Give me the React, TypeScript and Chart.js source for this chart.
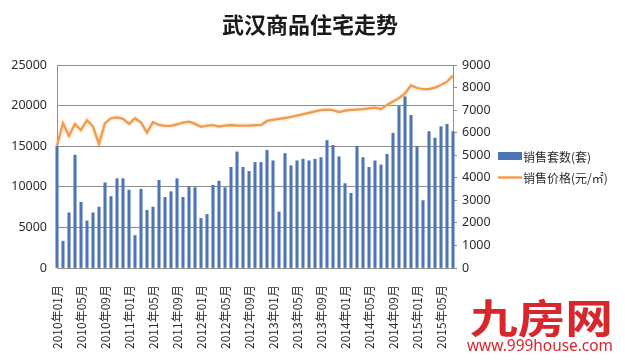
import React, { useEffect, useRef } from 'react';
import { Chart, registerables } from 'chart.js';

Chart.register(...registerables);

const chartTitle = '武汉商品住宅走势';
const seriesNames = ['销售套数(套)', '销售价格(元/㎡)'];
const watermarkName = '九房网';
const watermarkUrl = 'www.999house.com';

const months = [
  '2010年01月', '2010年02月', '2010年03月', '2010年04月', '2010年05月', '2010年06月',
  '2010年07月', '2010年08月', '2010年09月', '2010年10月', '2010年11月', '2010年12月',
  '2011年01月', '2011年02月', '2011年03月', '2011年04月', '2011年05月', '2011年06月',
  '2011年07月', '2011年08月', '2011年09月', '2011年10月', '2011年11月', '2011年12月',
  '2012年01月', '2012年02月', '2012年03月', '2012年04月', '2012年05月', '2012年06月',
  '2012年07月', '2012年08月', '2012年09月', '2012年10月', '2012年11月', '2012年12月',
  '2013年01月', '2013年02月', '2013年03月', '2013年04月', '2013年05月', '2013年06月',
  '2013年07月', '2013年08月', '2013年09月', '2013年10月', '2013年11月', '2013年12月',
  '2014年01月', '2014年02月', '2014年03月', '2014年04月', '2014年05月', '2014年06月',
  '2014年07月', '2014年08月', '2014年09月', '2014年10月', '2014年11月', '2014年12月',
  '2015年01月', '2015年02月', '2015年03月', '2015年04月', '2015年05月', '2015年06月',
  '2015年07月',
];

const salesUnits = [
  15000, 3300, 6800, 13900, 8100, 5800, 6800, 7500, 10500, 8800, 11000, 11000,
  9600, 4000, 9700, 7100, 7500, 10800, 8700, 9400, 11000, 8700, 10000, 9900,
  6100, 6600, 10200, 10700, 9900, 12400, 14300, 12400, 11900, 13000, 13000, 14500,
  13200, 6900, 14100, 12600, 13200, 13400, 13200, 13400, 13600, 15700, 15100, 13700,
  10400, 9200, 15000, 13600, 12400, 13200, 12700, 14000, 16600, 19900, 21100, 18800,
  14900, 8300, 16800, 16000, 17400, 17700, 16800,
];

const salesPrice = [
  5430, 6420, 5860, 6390, 6110, 6550, 6270, 5490, 6420, 6640, 6680, 6610,
  6390, 6640, 6450, 6000, 6460, 6340, 6300, 6300, 6370, 6450, 6490, 6390,
  6260, 6310, 6330, 6270, 6310, 6340, 6310, 6310, 6310, 6330, 6340, 6520,
  6570, 6610, 6650, 6700, 6760, 6820, 6880, 6940, 7000, 7020, 7000, 6910,
  6980, 7010, 7025, 7040, 7080, 7110, 7040, 7230, 7380, 7530, 7740, 8090,
  7980, 7930, 7930, 8000, 8110, 8260, 8530,
];

const leftAxis = { min: 0, max: 25000, step: 5000 };
const rightAxis = { min: 0, max: 9000, step: 1000 };

const BAR_COLOR = '#4d74b4';
const LINE_COLOR = '#ee9c4f';
const GRID_COLOR = '#8e8e8e';
const TEXT_COLOR = '#2b2b2b';
const RED = '#d8262d';
const CJK = '"Noto Sans CJK SC", "Noto Sans", sans-serif';

const decorPlugin = {
  id: 'decor',
  beforeDatasetDraw(chart: any, args: any) {
    if (args.meta.type === 'line') {
      const ctx = chart.ctx;
      ctx.save();
      ctx.shadowColor = 'rgba(240,170,100,0.55)';
      ctx.shadowBlur = 3;
    }
  },
  afterDatasetDraw(chart: any, args: any) {
    if (args.meta.type === 'line') {
      chart.ctx.restore();
    }
  },
  afterDraw(chart: any) {
    const ctx = chart.ctx;
    ctx.save();
    // title
    ctx.fillStyle = '#1a1a1a';
    ctx.font = `bold 22px ${CJK}`;
    ctx.textAlign = 'center';
    ctx.textBaseline = 'middle';
    ctx.fillText(chartTitle, 310, 25);

    // legend
    ctx.textAlign = 'left';
    ctx.font = `12px ${CJK}`;
    ctx.fillStyle = BAR_COLOR;
    ctx.fillRect(498, 152, 24, 8);
    ctx.fillStyle = TEXT_COLOR;
    ctx.fillText(seriesNames[0], 523, 157);
    ctx.strokeStyle = LINE_COLOR;
    ctx.lineWidth = 2.5;
    ctx.beginPath();
    ctx.moveTo(498, 177.5);
    ctx.lineTo(522, 177.5);
    ctx.stroke();
    ctx.fillStyle = TEXT_COLOR;
    ctx.fillText(seriesNames[1], 523, 178);

    // watermark
    ctx.fillStyle = RED;
    ctx.font = `bold 40px ${CJK}`;
    ctx.textBaseline = 'alphabetic';
    const w1 = ctx.measureText(watermarkName).width;
    ctx.save();
    ctx.translate(470, 333);
    ctx.scale(143 / w1, 1);
    ctx.fillText(watermarkName, 0, 0);
    ctx.restore();
    ctx.font = `16px "Noto Sans", sans-serif`;
    const w2 = ctx.measureText(watermarkUrl).width;
    ctx.save();
    ctx.translate(467, 351);
    ctx.scale(146 / w2, 1);
    ctx.fillText(watermarkUrl, 0, 0);
    ctx.restore();
    ctx.restore();
  },
};

export default function App() {
  const ref = useRef<HTMLCanvasElement | null>(null);

  useEffect(() => {
    if (!ref.current) return;
    const chart = new Chart(ref.current, {
      type: 'bar',
      data: {
        labels: months,
        datasets: [
          {
            type: 'line',
            label: seriesNames[1],
            data: salesPrice,
            yAxisID: 'y1',
            borderColor: LINE_COLOR,
            backgroundColor: LINE_COLOR,
            borderWidth: 2.3,
            pointRadius: 0,
            tension: 0,
            order: 0,
            clip: false,
          } as any,
          {
            type: 'bar',
            label: seriesNames[0],
            data: salesUnits,
            yAxisID: 'y',
            backgroundColor: BAR_COLOR,
            barThickness: 2.4,
            order: 1,
            clip: false,
          } as any,
        ],
      },
      options: {
        responsive: false,
        animation: false,
        layout: { padding: { top: 65, right: 132, left: 0, bottom: 0 } },
        plugins: {
          legend: { display: false },
          title: { display: false },
          tooltip: { enabled: false },
        },
        scales: {
          x: {
            type: 'category',
            offset: false,
            grid: { display: false },
            border: { display: true, color: GRID_COLOR },
            ticks: {
              autoSkip: false,
              maxRotation: 90,
              minRotation: 90,
              padding: 9,
              color: TEXT_COLOR,
              font: { family: CJK, size: 12 },
              callback: (_v: any, i: number) => (i % 4 === 0 ? months[i] : ''),
            },
            afterFit: (s: any) => {
              s.height = 95;
            },
          },
          y: {
            position: 'left',
            min: leftAxis.min,
            max: leftAxis.max,
            grid: { color: GRID_COLOR, drawTicks: false, lineWidth: 1 },
            border: { display: true, color: GRID_COLOR },
            ticks: {
              stepSize: leftAxis.step,
              padding: 10,
              color: TEXT_COLOR,
              font: { family: '"Noto Sans", sans-serif', size: 12.5 },
              callback: (v: any) => String(v),
            },
            afterFit: (s: any) => {
              s.width = 57;
            },
          },
          y1: {
            position: 'right',
            min: rightAxis.min,
            max: rightAxis.max,
            grid: {
              drawOnChartArea: false,
              drawTicks: true,
              tickLength: 4,
              color: GRID_COLOR,
            },
            border: { display: true, color: GRID_COLOR },
            ticks: {
              stepSize: rightAxis.step,
              padding: 5,
              color: TEXT_COLOR,
              font: { family: '"Noto Sans", sans-serif', size: 12.5 },
              callback: (v: any) => String(v),
            },
            afterFit: (s: any) => {
              s.width = 40;
            },
          },
        },
      } as any,
      plugins: [decorPlugin],
    });
    return () => chart.destroy();
  }, []);

  return (
    <div style={{ position: 'absolute', left: 0, top: 0, width: 625, height: 363, background: '#fff' }}>
      <canvas ref={ref} width={625} height={363} style={{ display: 'block' }} />
    </div>
  );
}
